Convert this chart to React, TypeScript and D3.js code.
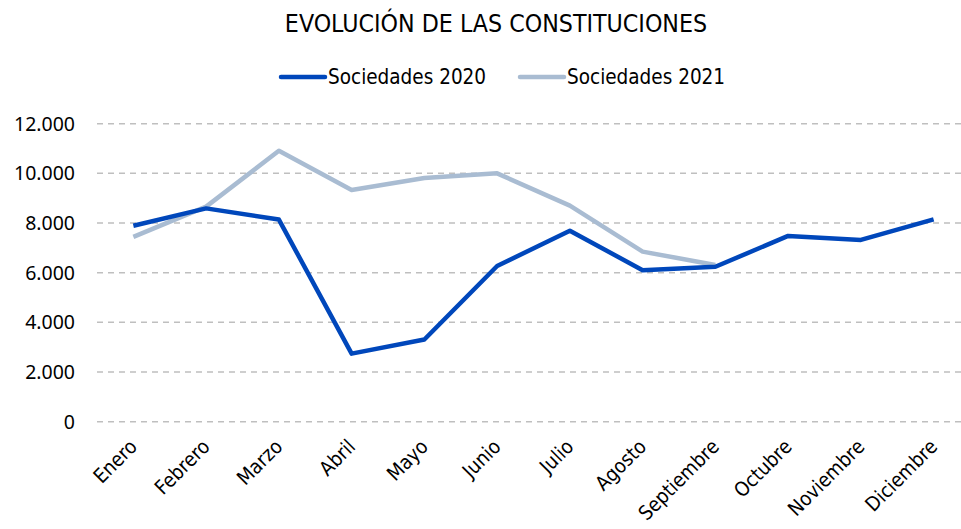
import React from "react";
import * as d3 from "d3";

const months = ["Enero","Febrero","Marzo","Abril","Mayo","Junio","Julio","Agosto","Septiembre","Octubre","Noviembre","Diciembre"];
const soc2020 = [7890, 8590, 8140, 2740, 3310, 6270, 7690, 6100, 6240, 7480, 7320, 8150];
const soc2021 = [7440, 8660, 10910, 9330, 9810, 10000, 8700, 6850, 6310];
const yTicks = [0, 2000, 4000, 6000, 8000, 10000, 12000];
const title = "EVOLUCIÓN DE LAS CONSTITUCIONES";
const seriesNames = ["Sociedades 2020", "Sociedades 2021"];
const colors = ["#0047BB", "#A9BCD2"];

const W = 961, H = 529;
const cond = "'DejaVu Sans Condensed', 'DejaVu Sans', sans-serif";

export default function App() {
  const x = d3.scaleBand<string>().domain(months).range([97, 970]);
  const y = d3.scaleLinear().domain([0, 12000]).range([421.7, 123.7]);
  const cx = (m: string) => (x(m) as number) + x.bandwidth() / 2;
  const line = d3.line<number>().x((_, i) => cx(months[i])).y((d) => y(d));
  const fmt = (v: number) => d3.format(",")(v).replace(/,/g, ".");
  return (
    <svg width={W} height={H} style={{ position: "absolute", left: 0, top: 0, background: "#fff" }}>
      <text x={496} y={32} textAnchor="middle" fontFamily={cond} fontSize={24.7} fill="#000">{title}</text>
      {seriesNames.map((s, i) => {
        const lx = [281, 520][i];
        return (
          <g key={s}>
            <line x1={lx} x2={lx + 44} y1={77} y2={77} stroke={colors[i]} strokeWidth={4.5} strokeLinecap="round" />
            <text x={lx + 47} y={84} fontFamily={cond} fontSize={20.5} fill="#000">{s}</text>
          </g>
        );
      })}
      {yTicks.map((t) => (
        <g key={t}>
          <line x1={97} x2={970} y1={y(t)} y2={y(t)} stroke="#BFBFBF" strokeWidth={1.5} strokeDasharray="6,5" />
          <text x={75} y={y(t)} dy="0.35em" textAnchor="end" fontFamily="'Noto Sans', sans-serif" fontSize={19.5} fill="#000">{fmt(t)}</text>
        </g>
      ))}
      <path d={line(soc2021) || ""} fill="none" stroke={colors[1]} strokeWidth={4.5} strokeLinejoin="round" />
      <path d={line(soc2020) || ""} fill="none" stroke={colors[0]} strokeWidth={4.5} strokeLinejoin="round" />
      {months.map((m) => (
        <text key={m} transform={`translate(${cx(m) - 5},${438}) rotate(-45)`} textAnchor="end" dy="0.7em" fontFamily={cond} fontSize={20} fill="#000">{m}</text>
      ))}
    </svg>
  );
}
